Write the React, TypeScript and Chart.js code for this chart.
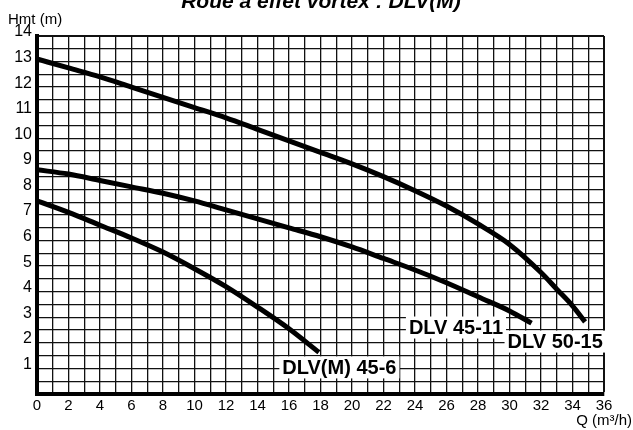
import React, { useEffect, useRef } from 'react';
import { Chart, registerables } from 'chart.js';

Chart.register(...registerables);

const TITLE = 'Roue à effet vortex : DLV(M)';
const Y_TITLE = 'Hmt (m)';
const X_TITLE = 'Q (m³/h)';

const SERIES_NAMES = ['DLV 50-15', 'DLV 45-11', 'DLV(M) 45-6'];

const q5015 = [0, 2, 4, 6, 8, 10, 12, 14, 16, 18, 20, 22, 24, 26, 28, 30, 32, 33, 34, 34.8];
const h5015 = [13.1, 12.75, 12.4, 12.0, 11.6, 11.2, 10.8, 10.35, 9.9, 9.45, 9.0, 8.5, 7.95, 7.35, 6.65, 5.85, 4.75, 4.1, 3.45, 2.82];

const q4511 = [0, 2, 4, 6, 8, 10, 12, 14, 16, 18, 20, 22, 24, 26, 28, 30, 31.4];
const h4511 = [8.77, 8.6, 8.35, 8.1, 7.85, 7.55, 7.2, 6.85, 6.5, 6.15, 5.75, 5.3, 4.85, 4.35, 3.8, 3.25, 2.77];

const q456 = [0, 2, 4, 6, 8, 10, 12, 14, 16, 17.9];
const h456 = [7.55, 7.1, 6.6, 6.1, 5.55, 4.9, 4.2, 3.4, 2.55, 1.63];

// label anchor (data units) for each curve name
const LABEL_Q = [32.9, 26.6, 19.2];
const LABEL_H = [2.05, 2.6, 1.04];

const X_MIN = 0, X_MAX = 36, X_STEP = 1;
const Y_MIN = 0, Y_MAX = 14, Y_STEP = 0.5;

const FONT = "'Liberation Sans', Arial, Helvetica, sans-serif";

function pts(q: number[], h: number[]) {
  return q.map((v, i) => ({ x: v, y: h[i] }));
}

export default function App() {
  const ref = useRef<HTMLCanvasElement>(null);

  useEffect(() => {
    if (!ref.current) return;

    const annot = {
      id: 'annot',
      afterDatasetsDraw(chart: any) {
        const { ctx, scales } = chart;
        const xs = scales.x, ys = scales.y;
        ctx.save();
        ctx.font = `bold 20px ${FONT}`;
        ctx.textAlign = 'center';
        ctx.textBaseline = 'middle';
        SERIES_NAMES.forEach((name, i) => {
          const px = xs.getPixelForValue(LABEL_Q[i]);
          const py = ys.getPixelForValue(LABEL_H[i]);
          const w = ctx.measureText(name).width;
          ctx.fillStyle = '#fff';
          ctx.fillRect(px - w / 2 - 3, py - 11, w + 6, 22);
          ctx.fillStyle = '#000';
          ctx.fillText(name, px, py + 1);
        });
        ctx.restore();
      },
      afterDraw(chart: any) {
        const { ctx } = chart;
        ctx.save();
        ctx.fillStyle = '#000';
        ctx.font = `italic bold 21px ${FONT}`;
        ctx.textAlign = 'center';
        ctx.textBaseline = 'alphabetic';
        ctx.fillText(TITLE, 321, 8);
        ctx.font = `15px ${FONT}`;
        ctx.textAlign = 'left';
        ctx.textBaseline = 'middle';
        ctx.fillText(Y_TITLE, 8, 20);
        ctx.textAlign = 'right';
        ctx.font = `15px ${FONT}`;
        ctx.fillText(X_TITLE, 632, 421);
        ctx.restore();
      },
    };

    const chart = new Chart(ref.current, {
      type: 'line',
      data: {
        datasets: [
          { label: SERIES_NAMES[0], data: pts(q5015, h5015) },
          { label: SERIES_NAMES[1], data: pts(q4511, h4511) },
          { label: SERIES_NAMES[2], data: pts(q456, h456) },
        ].map((d) => ({
          ...d,
          borderColor: '#000',
          backgroundColor: '#000',
          borderWidth: 5,
          pointRadius: 0,
          cubicInterpolationMode: 'monotone' as const,
          fill: false,
        })),
      },
      options: {
        responsive: false,
        animation: false,
        devicePixelRatio: 1,
        layout: { padding: { left: 0, top: 36, right: 29, bottom: 0 } },
        plugins: {
          legend: { display: false },
          title: { display: false },
          tooltip: { enabled: false },
        },
        scales: {
          x: {
            type: 'linear',
            min: X_MIN,
            max: X_MAX,
            afterFit: (s: any) => { s.height = 36; },
            ticks: {
              stepSize: X_STEP,
              autoSkip: false,
              maxRotation: 0,
              minRotation: 0,
              padding: 3,
              color: '#000',
              font: { family: FONT, size: 15 },
              callback: (v: any) => (Number(v) % 2 === 0 ? String(v) : ''),
            },
            grid: {
              drawTicks: false,
              color: '#111',
              lineWidth: (c: any) => (c.tick && c.tick.value === X_MAX ? 2 : 1.3),
            },
            border: { display: true, color: '#000', width: 4 },
          },
          y: {
            type: 'linear',
            min: Y_MIN,
            max: Y_MAX,
            afterFit: (s: any) => { s.width = 37; },
            ticks: {
              stepSize: Y_STEP,
              autoSkip: false,
              padding: 5,
              labelOffset: -4,
              color: '#000',
              font: { family: FONT, size: 16 },
              callback: (v: any) => (Number.isInteger(Number(v)) && Number(v) > 0 ? String(v) : ''),
            },
            grid: {
              drawTicks: false,
              color: '#111',
              lineWidth: (c: any) => (c.tick && c.tick.value === Y_MAX ? 2 : 1.3),
            },
            border: { display: true, color: '#000', width: 4 },
          },
        },
      },
      plugins: [annot],
    });

    return () => chart.destroy();
  }, []);

  return (
    <div style={{ position: 'fixed', left: 0, top: 0, width: 633, height: 430, background: '#fff' }}>
      <canvas ref={ref} width={633} height={430} style={{ display: 'block' }} />
    </div>
  );
}
